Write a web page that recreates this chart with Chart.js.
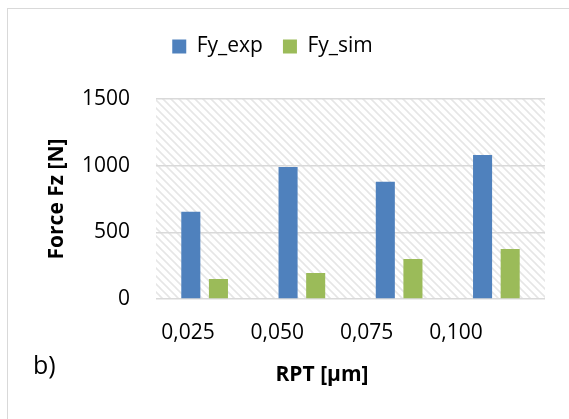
<!DOCTYPE html>
<html lang="en">
<head>
<meta charset="UTF-8">
<title>Force Fz vs RPT</title>
<script src="https://cdn.jsdelivr.net/npm/chart.js"></script>
<style>
  body { margin: 0; background: #fff; font-family: 'Open Sans', sans-serif; }
  #wrap { position: relative; width: 569px; height: 419px; overflow: hidden; }
  /* outer frame, cut off at right and bottom like the reference */
  #frame { position: absolute; left: 7px; top: 8px; width: 620px; height: 480px; border: 1.5px solid #d9d9d9; }
  canvas { position: absolute; left: 0; top: 0; }
  .lbl { position: absolute; color: #000; white-space: nowrap; }
  #xTitle { left: 222px; width: 200px; text-align: center; top: 361px; font-size: 21px; line-height: 24px; font-weight: bold; }
  #panel { left: 33px; top: 349px; font-size: 25px; line-height: 30px; }
</style>
</head>
<body>
<div id="wrap">
  <div id="frame"></div>
  <canvas id="forceChart" width="569" height="419"></canvas>
  <div class="lbl" id="xTitle">RPT [μm]</div>
  <div class="lbl" id="panel">b)</div>
</div>
<script>
const categories = ['0,025', '0,050', '0,075', '0,100'];
const fyExp = [655, 990, 880, 1080];
const fySim = [150, 195, 300, 375];
const yTicks = [0, 500, 1000, 1500];

// light diagonal hatch behind the plot
function hatchPattern(ctx) {
  const c = document.createElement('canvas');
  c.width = 8; c.height = 8;
  const g = c.getContext('2d');
  g.strokeStyle = '#e6e6e6';
  g.lineWidth = 1.6;
  [[-2, -2, 10, 10], [-2, 6, 2, 10], [6, -2, 10, 2]].forEach(l => {
    g.beginPath(); g.moveTo(l[0], l[1]); g.lineTo(l[2], l[3]); g.stroke();
  });
  return ctx.createPattern(c, 'repeat');
}

const plotBackground = {
  id: 'plotBackground',
  beforeDraw(chart) {
    const { ctx, chartArea: a } = chart;
    ctx.save();
    ctx.fillStyle = hatchPattern(ctx);
    ctx.fillRect(a.left, a.top, a.right - a.left, a.bottom - a.top);
    ctx.restore();
  }
};

// extra space under the legend
const legendGap = {
  id: 'legendGap',
  beforeLayout(chart) {
    const lg = chart.legend;
    if (lg && !lg._gapPatched) {
      const fit = lg.fit;
      lg.fit = function () { fit.call(this); this.height += 32; };
      lg._gapPatched = true;
    }
  }
};

Chart.defaults.font.family = "'Open Sans', sans-serif";
Chart.defaults.color = '#000';

new Chart(document.getElementById('forceChart'), {
  type: 'bar',
  data: {
    labels: categories,
    datasets: [
      { label: 'Fy_exp', data: fyExp, backgroundColor: '#4f81bd', categoryPercentage: 0.568, barPercentage: 0.69 },
      { label: 'Fy_sim', data: fySim, backgroundColor: '#9bbb59', categoryPercentage: 0.568, barPercentage: 0.69 }
    ]
  },
  options: {
    responsive: false,
    animation: false,
    devicePixelRatio: 1,
    layout: { padding: { top: 16, right: 24, bottom: 0, left: 0 } },
    plugins: {
      legend: {
        position: 'top',
        labels: { boxWidth: 14, boxHeight: 14, padding: 20, font: { size: 21 } }
      },
      tooltip: { enabled: false }
    },
    scales: {
      x: { display: false },
      xLabels: {
        type: 'linear',
        position: 'bottom',
        offset: false,
        min: 0.642,
        max: 4.997,
        afterBuildTicks: s => { s.ticks = categories.map((c, i) => ({ value: i + 1 })); },
        afterFit: s => { s.height = 120; },
        grid: { display: false, drawTicks: false, offset: false },
        border: { display: false },
        ticks: {
          padding: 21, maxRotation: 0, autoSkip: false,
          font: { size: 21 },
          callback: v => categories[Math.round(v) - 1]
        }
      },
      y: {
        min: 0,
        max: 1500,
        afterBuildTicks: s => { s.ticks = yTicks.map(v => ({ value: v })); },
        afterFit: s => { s.width = 156; },
        grid: { color: '#d9d9d9', lineWidth: 1.5, drawTicks: false },
        border: { display: false },
        ticks: { padding: 26, font: { size: 21 }, callback: v => String(v) },
        title: {
          display: true, text: 'Force Fz [N]',
          font: { size: 21, weight: 'bold' },
          padding: { top: 44, bottom: 0 }
        }
      }
    }
  },
  plugins: [plotBackground, legendGap]
});
</script>
</body>
</html>
